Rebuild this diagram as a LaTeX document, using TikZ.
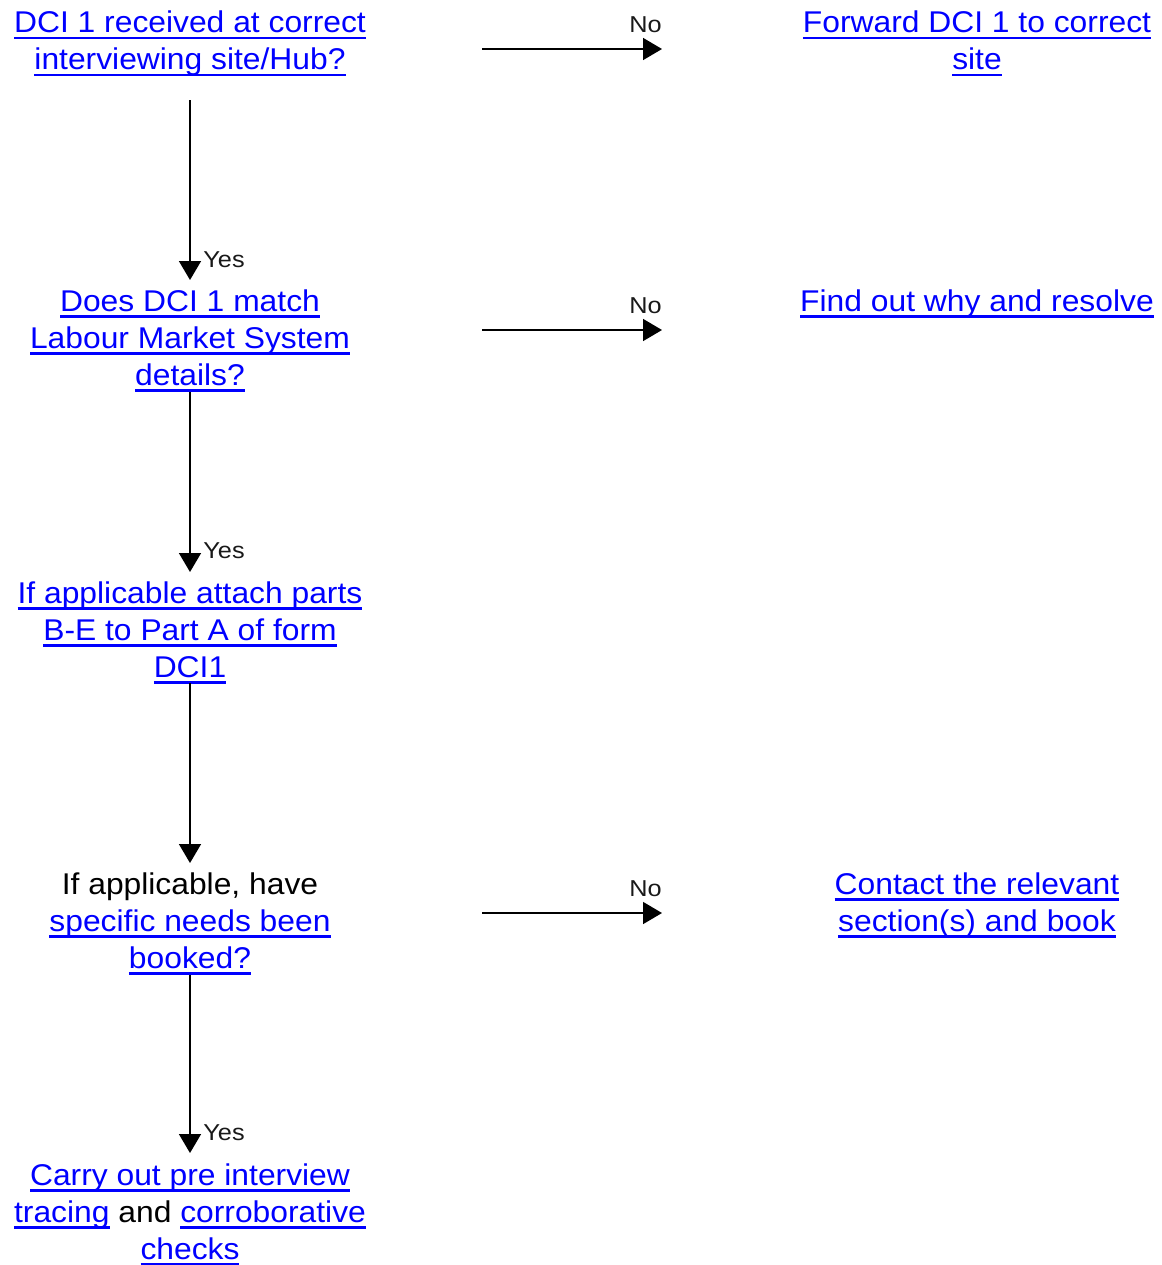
\documentclass[tikz,border=0pt]{standalone}
\usepackage{fontspec}
\setmainfont{Liberation Sans}[FakeStretch=1.06]
\newfontfamily\lblfont{Liberation Sans}[FakeStretch=1.1]
\usetikzlibrary{arrows.meta}
\definecolor{linkblue}{RGB}{0,0,255}
\newcommand\lnk[1]{{\color{linkblue}\setbox0=\hbox{#1}\rlap{\rule[-3.4pt]{\wd0}{1.3pt}}\box0}}
\tikzset{
  txt/.style={anchor=north, inner sep=0pt, align=center,
    font=\fontsize{15pt}{18.5pt}\selectfont},
  lbl/.style={inner sep=0pt, text=black!90,
    font=\lblfont\fontsize{11.5pt}{13pt}\selectfont},
  arr/.style={line width=0.8pt, -{Triangle[width=11pt,length=9.5pt]}}
}
\begin{document}
\begin{tikzpicture}[x=0.5pt,y=-0.5pt]
\useasboundingbox (0,0) rectangle (1162,1265);
% left column
\node[txt] (q1) at (190,10.5) {\lnk{DCI 1 received at correct}\\\lnk{interviewing site/Hub?}};
\node[txt] (q2) at (190,289) {\lnk{Does DCI 1 match}\\\lnk{Labour Market System}\\\lnk{details?}};
\node[txt] (q3) at (190,581) {\lnk{If applicable attach parts}\\\lnk{B-E to Part A of form}\\\lnk{DCI1}};
\node[txt] (q4) at (190,872) {If applicable, have\\\lnk{specific needs been}\\\lnk{booked?}};
\node[txt] (q5) at (190,1163) {\lnk{Carry out pre interview}\\\lnk{tracing} and \lnk{corroborative}\\\lnk{checks}};
% right column
\node[txt] (r1) at (977,10.5) {\lnk{Forward DCI 1 to correct}\\\lnk{site}};
\node[txt] (r2) at (977,289) {\lnk{Find out why and resolve}};
\node[txt] (r4) at (977,872) {\lnk{Contact the relevant}\\\lnk{section(s) and book}};
% connector end points
\coordinate (v1s) at (190,100);  \coordinate (v1e) at (190,280);
\coordinate (v2s) at (190,392);  \coordinate (v2e) at (190,572);
\coordinate (v3s) at (190,683);  \coordinate (v3e) at (190,863);
\coordinate (v4s) at (190,975);  \coordinate (v4e) at (190,1153);
\coordinate (h1s) at (482,49);   \coordinate (h1e) at (662,49);
\coordinate (h2s) at (482,330);  \coordinate (h2e) at (662,330);
\coordinate (h4s) at (482,913);  \coordinate (h4e) at (662,913);
% vertical arrows
\draw[arr] (v1s) -- (v1e);
\draw[arr] (v2s) -- (v2e);
\draw[arr] (v3s) -- (v3e);
\draw[arr] (v4s) -- (v4e);
% horizontal arrows
\draw[arr] (h1s) -- (h1e);
\draw[arr] (h2s) -- (h2e);
\draw[arr] (h4s) -- (h4e);
% labels
\node[lbl, anchor=base west] (y1) at (203,267) {Yes};
\node[lbl, anchor=base west] (y2) at (203,558) {Yes};
\node[lbl, anchor=base west] (y4) at (203,1140) {Yes};
\node[lbl, anchor=base east] (n1) at (662,32) {No};
\node[lbl, anchor=base east] (n2) at (662,313) {No};
\node[lbl, anchor=base east] (n4) at (662,896) {No};
\end{tikzpicture}
\end{document}
